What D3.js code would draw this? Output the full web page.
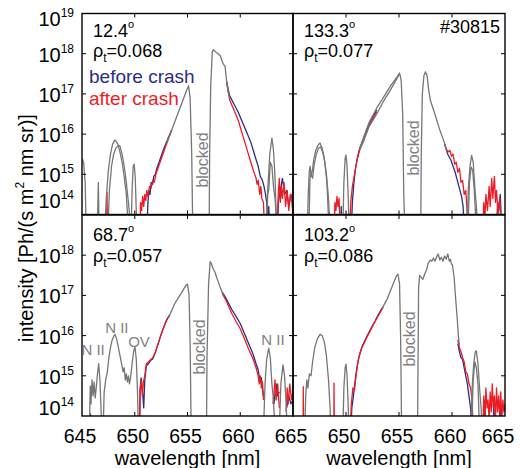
<!DOCTYPE html>
<html>
<head>
<meta charset="utf-8">
<script src="https://cdn.jsdelivr.net/npm/d3@7"></script>
<style>
  body { margin: 0; background: #fff; }
  svg { display: block; }
  text { font-family: "Liberation Sans", Arial, sans-serif; }
</style>
</head>
<body>
<svg id="chart" width="520" height="468"></svg>
<script>
// Balmer-alpha spectra, four lines of sight, shot #30815.
// Each series: [wavelength nm, log10 intensity]; null breaks the line.
// Values below 14 fall under the axis floor and are clipped.

const wavelengthTicks = [645, 650, 655, 660, 665];
const decadeTicks = [14, 15, 16, 17, 18, 19];

// ---- 12.4 deg, rho_t = 0.068 ----
const gray124 = [
  [645.0, 15.4], [645.15, 15.3], [645.3, 14.8], [645.4, 13.6], [645.4, null],
  [646.45, 13.6], [646.55, 14.8], [646.62, 13.6], [646.62, null],
  [647.15, 13.6], [647.3, 14.4], [647.5, 15.1], [647.7, 15.5], [647.9, 15.75], [648.1, 15.85], [648.2, 15.83],
  [648.4, 15.75], [648.6, 15.55], [648.8, 15.3], [649.0, 14.95], [649.2, 14.5], [649.4, 13.6], [649.4, null],
  [649.65, 13.6], [649.75, 14.6], [649.85, 15.2], [649.95, 15.25], [650.05, 14.9], [650.2, 13.6], [650.2, null],
  [653.0, 15.75], [653.5, 16.1], [654.0, 16.45], [654.5, 16.8], [654.9, 17.08], [655.1, 17.2], [655.25, 16.9],
  [655.4, 15.5], [655.5, 13.6], [655.5, null],
  [657.05, 13.6], [657.1, 15.5], [657.2, 17.2], [657.35, 18.05], [657.45, 18.1], [657.65, 18.05], [657.9, 18.0],
  [658.1, 17.95], [658.3, 17.8], [658.45, 17.72], [658.55, 17.7], [658.7, 17.35], [658.85, 17.05], [659.0, 16.9], [659.0, null],
  [662.45, 13.6], [662.6, 14.6], [662.8, 15.5], [663.0, 15.9], [663.15, 15.6], [663.3, 14.9], [663.45, 13.6]
];
const grayAlt124 = [
  [647.45, 13.6], [647.6, 14.6], [647.8, 15.2], [648.0, 15.5], [648.2, 15.65], [648.45, 15.72], [648.6, 15.7],
  [648.8, 15.5], [649.0, 15.2], [649.2, 14.8], [649.4, 14.3], [649.65, 13.6], [649.65, null],
  [662.5, 13.6], [662.6, 14.5], [662.7, 14.6], [662.85, 15.3], [663.0, 15.2], [663.15, 14.7], [663.3, 14.4], [663.5, 13.6]
];
const before124 = [
  [651.15, 13.6], [651.25, 14.3], [651.35, 14.6], [651.45, 14.5], [651.55, 14.8], [651.7, 14.75], [651.8, 14.95],
  [651.95, 15.0], [652.1, 15.15], [652.3, 15.3], [652.5, 15.45], [652.7, 15.6], [653.0, 15.8], [653.5, 16.1], [653.5, null],
  [658.7, 17.3], [659.0, 16.95], [659.4, 16.75], [659.8, 16.55], [660.2, 16.3], [660.6, 16.05], [661.0, 15.8],
  [661.4, 15.45], [661.7, 15.2], [661.9, 14.95], [662.1, 14.85], [662.25, 14.7], [662.4, 14.5], [662.5, 14.3],
  [662.6, 13.9], [662.7, 14.2], [662.8, 13.6], [662.8, null],
  [663.55, 13.6], [663.6, 14.3], [663.8, 14.6], [664.0, 14.9], [664.2, 14.5], [664.4, 14.6], [664.6, 14.2],
  [664.8, 14.5], [665.0, 14.3]
];
const after124 = [
  [647.33, 13.6], [647.37, 14.55], [647.42, 13.6], [647.42, null],
  [650.5, 13.6], [650.55, 14.3], [650.65, 14.1], [650.75, 14.45], [650.85, 14.2], [650.95, 14.5], [651.05, 14.35],
  [651.15, 14.6], [651.25, 14.45], [651.4, 14.7], [651.55, 14.65], [651.7, 14.85], [651.85, 14.8], [652.0, 15.0],
  [652.2, 15.15], [652.4, 15.3], [652.6, 15.45], [652.8, 15.6], [653.0, 15.75], [653.5, 16.1], [653.5, null],
  [658.7, 17.3], [659.0, 16.85], [659.4, 16.6], [659.8, 16.35], [660.2, 16.0], [660.6, 15.65], [661.0, 15.3],
  [661.3, 15.05], [661.5, 14.9], [661.6, 14.75], [661.7, 14.85], [661.85, 14.5], [661.95, 14.7], [662.05, 14.4],
  [662.2, 14.3], [662.3, 13.6], [662.3, null],
  [663.5, 13.6], [663.6, 14.5], [663.7, 14.9], [663.8, 14.3], [663.9, 14.7], [664.0, 14.4], [664.15, 14.8],
  [664.3, 14.2], [664.45, 14.6], [664.6, 14.1], [664.75, 14.5], [664.9, 14.3], [665.0, 14.0]
];

// ---- 133.3 deg, rho_t = 0.077 ----
const gray133 = [
  [646.35, 13.6], [646.45, 14.6], [646.55, 15.1], [646.62, 15.2], [646.7, 14.95], [646.8, 15.05], [646.95, 15.35],
  [647.15, 15.6], [647.35, 15.72], [647.55, 15.78], [647.75, 15.65], [647.95, 15.4], [648.15, 15.0], [648.35, 14.4],
  [648.5, 13.6], [648.5, null],
  [649.7, 13.6], [649.8, 14.8], [649.92, 15.4], [650.0, 15.48], [650.1, 15.2], [650.2, 14.5], [650.3, 13.6], [650.3, null],
  [651.3, 15.65], [651.7, 15.95], [652.2, 16.3], [652.9, 16.65], [653.5, 16.9], [654.2, 17.2], [654.8, 17.42],
  [655.05, 17.52], [655.2, 17.35], [655.35, 16.5], [655.45, 14.5], [655.55, 13.6], [655.55, null],
  [657.05, 13.6], [657.1, 15.5], [657.2, 17.0], [657.35, 17.45], [657.5, 17.55], [657.65, 17.45], [657.8, 17.1],
  [657.95, 16.85], [658.2, 16.65], [658.5, 16.4], [658.85, 16.1], [659.2, 15.85], [659.5, 15.6], [659.5, null],
  [661.4, 13.6], [661.55, 14.7], [661.7, 15.2], [661.85, 15.47], [662.0, 15.3], [662.15, 14.7], [662.3, 14.2], [662.45, 13.6]
];
const grayAlt133 = [
  [646.5, 13.6], [646.6, 14.9], [646.7, 15.0], [646.85, 14.9], [647.0, 15.25], [647.2, 15.5], [647.4, 15.65],
  [647.6, 15.68], [647.8, 15.55], [648.0, 15.3], [648.2, 14.8], [648.4, 13.6], [648.4, null],
  [651.3, 15.6], [651.7, 15.85], [652.2, 16.2], [652.9, 16.5], [653.5, 16.8], [654.2, 17.1], [654.8, 17.38], [655.05, 17.5], [655.05, null],
  [661.5, 13.6], [661.65, 14.8], [661.8, 15.18], [661.95, 15.1], [662.1, 14.6], [662.3, 13.6]
];
const before133 = [
  [649.5, 13.6], [649.55, 14.2], [649.6, 13.6], [649.6, null],
  [650.5, 13.6], [650.6, 14.3], [650.75, 14.8], [650.9, 15.15], [651.1, 15.45], [651.3, 15.65], [651.7, 15.92],
  [652.2, 16.27], [652.9, 16.6], [652.9, null],
  [659.3, 15.75], [659.6, 15.5], [659.9, 15.35], [660.1, 15.2], [660.3, 15.05], [660.5, 14.85], [660.7, 14.65],
  [660.9, 14.45], [661.05, 14.2], [661.15, 13.6], [661.15, null],
  [664.2, 13.6], [664.3, 14.3], [664.4, 14.1], [664.55, 14.5], [664.7, 13.6]
];
const after133 = [
  [648.9, 13.6], [648.95, 14.3], [649.05, 14.1], [649.15, 14.45], [649.25, 14.2], [649.35, 14.4], [649.45, 13.6], [649.45, null],
  [650.35, 13.6], [650.45, 14.3], [650.6, 14.7], [650.8, 15.0], [651.0, 15.3], [651.3, 15.62], [651.7, 15.9],
  [652.2, 16.22], [652.9, 16.55], [652.9, null],
  [659.3, 15.75], [659.6, 15.55], [659.8, 15.6], [659.95, 15.45], [660.1, 15.5], [660.25, 15.25], [660.4, 15.3],
  [660.55, 15.05], [660.7, 15.15], [660.85, 14.8], [661.0, 14.85], [661.15, 14.5], [661.3, 14.6], [661.4, 14.2],
  [661.5, 13.6], [661.5, null],
  [662.9, 13.6], [663.0, 14.3], [663.1, 13.9], [663.2, 14.5], [663.35, 14.1], [663.5, 14.7], [663.6, 14.2],
  [663.75, 14.9], [663.85, 14.4], [664.0, 14.95], [664.1, 14.3], [664.2, 14.6], [664.35, 14.0], [664.5, 14.4], [664.65, 13.6]
];

// ---- 68.7 deg, rho_t = 0.057 ----
const gray687 = [
  [645.7, 13.6], [645.78, 14.75], [645.85, 14.3], [645.95, 14.9], [646.05, 14.5], [646.15, 14.85], [646.25, 14.45],
  [646.35, 14.7], [646.45, 15.0], [646.58, 15.3], [646.7, 14.9], [646.8, 14.2], [646.88, 13.6], [646.88, null],
  [647.0, 13.6], [647.1, 14.6], [647.25, 14.9], [647.4, 15.1], [647.55, 15.45], [647.7, 15.7], [647.85, 15.88],
  [648.0, 15.98], [648.13, 16.03], [648.3, 15.9], [648.45, 15.7], [648.6, 15.5], [648.75, 15.3], [648.9, 15.1],
  [649.0, 15.2], [649.1, 14.9], [649.2, 15.05], [649.3, 14.85], [649.4, 15.0], [649.5, 14.8], [649.6, 14.95],
  [649.75, 15.3], [649.9, 15.62], [650.02, 15.72], [650.15, 15.4], [650.25, 14.7], [650.35, 13.6], [650.35, null],
  [653.2, 16.45], [653.8, 16.8], [654.4, 17.05], [654.85, 17.25], [655.0, 17.28], [655.15, 17.0], [655.25, 15.8],
  [655.35, 13.6], [655.35, null],
  [656.8, 13.6], [656.85, 15.5], [657.0, 17.3], [657.15, 17.84], [657.25, 17.8], [657.45, 17.65], [657.6, 17.58],
  [657.8, 17.42], [658.1, 17.2], [658.4, 17.0], [658.4, null],
  [662.2, 13.6], [662.35, 14.8], [662.5, 15.4], [662.7, 15.69], [662.85, 15.45], [663.0, 14.8], [663.15, 14.4],
  [663.3, 13.6], [663.3, null],
  [663.7, 13.6], [663.85, 14.8], [664.05, 15.27], [664.2, 15.0], [664.35, 14.3], [664.45, 13.6]
];
const before687 = [
  [645.75, 13.6], [645.8, 14.05], [645.85, 13.6], [645.85, null],
  [650.45, 13.6], [650.5, 14.6], [650.6, 14.95], [650.7, 14.7], [650.8, 14.4], [650.85, 14.2], [650.95, 14.9],
  [651.1, 15.25], [651.3, 15.3], [651.5, 15.38], [651.7, 15.42], [651.9, 15.55], [652.1, 15.7], [652.4, 15.95],
  [652.7, 16.18], [653.0, 16.38], [653.3, 16.52], [653.3, null],
  [658.3, 17.08], [658.7, 16.9], [659.2, 16.65], [659.6, 16.48], [660.0, 16.3], [660.4, 16.05], [660.8, 15.8],
  [661.2, 15.55], [661.5, 15.3], [661.7, 15.15], [661.85, 14.9], [662.0, 14.95], [662.1, 14.7], [662.2, 14.5], [662.2, null],
  [663.2, 14.3], [663.4, 14.8], [663.55, 14.5], [663.7, 14.6], [663.7, null],
  [664.4, 14.2], [664.6, 14.5], [664.8, 14.3], [665.0, 14.4]
];
const after687 = [
  [650.45, 13.6], [650.52, 14.7], [650.62, 14.9], [650.72, 14.5], [650.82, 14.85], [650.95, 15.0], [651.1, 15.3],
  [651.3, 15.35], [651.5, 15.4], [651.7, 15.45], [651.9, 15.55], [652.1, 15.7], [652.4, 15.95], [652.7, 16.17],
  [653.0, 16.37], [653.3, 16.5], [653.3, null],
  [658.3, 17.05], [658.7, 16.85], [659.2, 16.55], [659.6, 16.35], [660.0, 16.17], [660.4, 15.92], [660.8, 15.66],
  [661.2, 15.43], [661.5, 15.2], [661.7, 15.0], [661.8, 14.8], [661.9, 15.0], [662.0, 14.7], [662.1, 14.85],
  [662.2, 14.4], [662.2, null],
  [663.1, 14.3], [663.3, 14.9], [663.4, 14.4], [663.55, 14.8], [663.7, 14.2], [663.7, null],
  [664.35, 14.1], [664.45, 14.7], [664.55, 14.3], [664.7, 14.8], [664.85, 14.4], [665.0, 14.6]
];

// ---- 103.2 deg, rho_t = 0.086 ----
const gray1032 = [
  [646.1, 13.6], [646.2, 14.5], [646.3, 14.9], [646.4, 14.7], [646.55, 15.05], [646.7, 15.0], [646.85, 15.35],
  [647.05, 15.7], [647.3, 15.92], [647.55, 16.03], [647.75, 16.0], [647.95, 15.85], [648.15, 15.5], [648.35, 14.9],
  [648.5, 14.2], [648.55, 13.6], [648.55, null],
  [649.7, 13.6], [649.8, 14.7], [649.92, 15.2], [650.0, 15.29], [650.1, 15.0], [650.2, 14.3], [650.28, 13.6], [650.28, null],
  [653.4, 16.67], [653.9, 16.92], [654.4, 17.25], [654.75, 17.48], [654.9, 17.53], [655.05, 17.3], [655.15, 16.0],
  [655.25, 13.6], [655.25, null],
  [656.75, 13.6], [656.8, 15.5], [656.85, 17.2], [656.95, 17.5], [657.1, 17.45], [657.25, 17.4], [657.45, 17.55],
  [657.6, 17.63], [657.75, 17.8], [657.95, 17.88], [658.1, 17.85], [658.25, 17.93], [658.4, 17.85], [658.55, 17.96],
  [658.7, 18.03], [658.85, 17.88], [659.0, 17.95], [659.15, 17.85], [659.3, 17.98], [659.45, 17.9], [659.6, 18.03],
  [659.75, 17.85], [659.85, 17.9], [659.95, 17.78], [660.05, 17.75], [660.2, 17.45], [660.35, 16.9], [660.5, 16.4],
  [660.6, 16.0], [660.7, 15.75], [660.7, null],
  [661.75, 13.6], [661.9, 14.7], [662.05, 15.3], [662.2, 15.6], [662.3, 15.62], [662.45, 15.3], [662.6, 14.7],
  [662.75, 14.2], [662.85, 13.6]
];
const grayAlt1032 = [
  [661.85, 13.6], [662.0, 14.9], [662.15, 15.35], [662.3, 15.2], [662.45, 14.8], [662.6, 13.6]
];
const before1032 = [
  [650.45, 13.6], [650.55, 14.2], [650.7, 14.5], [650.85, 14.85], [651.0, 15.15], [651.2, 15.45], [651.5, 15.72],
  [651.95, 15.97], [652.4, 16.2], [652.75, 16.37], [653.1, 16.55], [653.5, 16.72], [653.5, null],
  [660.55, 15.8], [660.7, 15.6], [660.85, 15.45], [661.0, 15.4], [661.15, 15.2], [661.3, 15.0], [661.45, 14.8],
  [661.6, 14.5], [661.75, 14.2], [661.85, 13.6], [661.85, null],
  [662.95, 13.6], [663.0, 14.0], [663.1, 14.3], [663.2, 13.6], [663.2, null],
  [663.9, 13.6], [663.95, 14.4], [664.0, 13.6], [664.0, null],
  [664.5, 13.6], [664.55, 14.2], [664.6, 13.6]
];
const after1032 = [
  [645.95, 13.6], [645.97, 14.73], [646.0, 13.6], [646.0, null],
  [648.85, 13.6], [648.87, 14.82], [648.9, 13.6], [648.9, null],
  [650.4, 13.6], [650.5, 14.3], [650.65, 14.7], [650.8, 14.65], [650.95, 15.0], [651.1, 15.3], [651.3, 15.55],
  [651.5, 15.7], [651.95, 15.95], [652.4, 16.18], [652.75, 16.35], [653.1, 16.52], [653.5, 16.7], [653.5, null],
  [660.55, 15.9], [660.7, 15.7], [660.85, 15.6], [661.0, 15.45], [661.15, 15.35], [661.3, 15.1], [661.45, 15.05],
  [661.6, 14.8], [661.75, 14.7], [661.9, 14.4], [662.0, 13.6], [662.0, null],
  [662.9, 13.6], [663.0, 14.5], [663.1, 14.0], [663.2, 14.7], [663.3, 14.2], [663.4, 14.4], [663.5, 13.9],
  [663.6, 14.6], [663.7, 14.1], [663.8, 14.8], [663.9, 14.2], [664.0, 14.5], [664.1, 13.9], [664.2, 14.7],
  [664.3, 14.1], [664.4, 14.5], [664.5, 14.0], [664.6, 14.6], [664.7, 13.9], [664.8, 14.4], [664.9, 14.1], [665.0, 14.3]
];

const angles = ["12.4", "133.3", "68.7", "103.2"];
const rhoValues = ["0.068", "0.077", "0.057", "0.086"];
const grayMain = [gray124, gray133, gray687, gray1032];
const grayAlt = [grayAlt124, grayAlt133, [], grayAlt1032];
const beforeCrash = [before124, before133, before687, before1032];
const afterCrash = [after124, after133, after687, after1032];

// ---- layout ----
const colX = [[82, 293], [293, 505]];
const rowY = [[13.5, 214.5], [215, 416]];
const COLORS = { gray: "#767676", before: "#2b2e83", after: "#ed1c24", label: "#808080" };

const svg = d3.select("#chart");

angles.forEach((ang, i) => {
  const col = i % 2, row = Math.floor(i / 2);
  const [x0, x1] = colX[col], [y0, y1] = rowY[row];
  const x = d3.scaleLinear().domain([645, 665]).range([x0, x1]);
  const y = d3.scaleLog().domain([1e14, 1e19]).range([y1, y0]);
  const g = svg.append("g");

  const clipId = "clip" + i;
  svg.append("clipPath").attr("id", clipId)
    .append("rect").attr("x", x0).attr("y", y0).attr("width", x1 - x0).attr("height", y1 - y0);

  const line = d3.line()
    .defined(d => d[1] !== null)
    .x(d => x(d[0]))
    .y(d => y(Math.pow(10, d[1])));

  const plot = g.append("g").attr("clip-path", `url(#${clipId})`);
  const draw = (data, color) => plot.append("path").datum(data)
    .attr("d", line).attr("fill", "none").attr("stroke", color)
    .attr("stroke-width", 1.3).attr("stroke-linejoin", "round");
  draw(beforeCrash[i], COLORS.before);
  draw(afterCrash[i], COLORS.after);
  draw(grayAlt[i], COLORS.gray);
  draw(grayMain[i], COLORS.gray);

  // inward ticks on all four sides
  const ticks = g.append("g").attr("stroke", "#000").attr("stroke-width", 1);
  wavelengthTicks.slice(1, -1).forEach(t => {
    ticks.append("line").attr("x1", x(t)).attr("x2", x(t)).attr("y1", y1).attr("y2", y1 - 4);
    ticks.append("line").attr("x1", x(t)).attr("x2", x(t)).attr("y1", y0).attr("y2", y0 + 4);
  });
  decadeTicks.slice(1, -1).forEach(e => {
    const yy = y(Math.pow(10, e));
    ticks.append("line").attr("x1", x0).attr("x2", x0 + 4).attr("y1", yy).attr("y2", yy);
    ticks.append("line").attr("x1", x1).attr("x2", x1 - 4).attr("y1", yy).attr("y2", yy);
  });

  g.append("rect").attr("x", x0).attr("y", y0).attr("width", x1 - x0).attr("height", y1 - y0)
    .attr("fill", "none").attr("stroke", "#000").attr("stroke-width", 1.4);

  // decade labels on the left column
  if (col === 0) {
    const exps = row === 0 ? decadeTicks : decadeTicks.slice(0, -1);
    exps.forEach(e => {
      let dy = 8;
      if (e === 19) dy = 12;
      if (e === 14) dy = row === 0 ? -7 : -1;
      const t = svg.append("text").attr("x", 74).attr("y", y(Math.pow(10, e)) + dy)
        .attr("text-anchor", "end").attr("font-size", 20).attr("fill", "#000");
      t.append("tspan").text("10");
      t.append("tspan").attr("font-size", 12).attr("dy", -9).text(e);
    });
  }

  // wavelength labels on the bottom row
  if (row === 1) {
    const vals = col === 0 ? wavelengthTicks : wavelengthTicks.slice(1);
    vals.forEach(v => {
      const shift = (col === 1 && v === 665) ? -7 : -2;
      svg.append("text").attr("x", x(v) + shift).attr("y", 443)
        .attr("text-anchor", "middle").attr("font-size", 19.5).attr("fill", "#000").text(v);
    });
    svg.append("text").attr("x", (x0 + x1) / 2).attr("y", 465)
      .attr("text-anchor", "middle").attr("font-size", 20).attr("fill", "#000").text("wavelength [nm]");
  }

  // angle and rho_t
  const lx = x0 + 11, ly = row === 0 ? 36.5 : 241;
  const a = svg.append("text").attr("x", lx).attr("y", ly).attr("font-size", 18).attr("fill", "#000");
  a.append("tspan").text(ang);
  a.append("tspan").attr("font-size", 11).attr("dy", -9).text("o");
  const r = svg.append("text").attr("x", lx).attr("y", ly + 20.5).attr("font-size", 18).attr("fill", "#000");
  r.append("tspan").text("ρ");
  r.append("tspan").attr("font-size", 12).attr("dy", 5).text("t");
  r.append("tspan").attr("dy", -5).text("=" + rhoValues[i]);

  // blocked band label
  const blockedCenter = [656.4, 656.3, 656.05, 655.95][i];
  const blockedY = [160, 148, 347, 339][i];
  svg.append("text")
    .attr("transform", `translate(${x(blockedCenter) + 6},${blockedY}) rotate(-90)`)
    .attr("text-anchor", "middle").attr("font-size", 16).attr("fill", COLORS.label).text("blocked");

  if (i === 0) {
    svg.append("text").attr("x", x0 + 7).attr("y", 83).attr("font-size", 19)
      .attr("fill", COLORS.before).text("before crash");
    svg.append("text").attr("x", x0 + 7).attr("y", 105).attr("font-size", 19)
      .attr("fill", COLORS.after).text("after crash");
  }
  if (i === 1) {
    svg.append("text").attr("x", x1 - 5).attr("y", 33).attr("text-anchor", "end")
      .attr("font-size", 18).attr("fill", "#000").text("#30815");
  }
  if (i === 2) {
    const lines = [["N II", 646.05, 355], ["N II", 648.3, 333], ["OV", 650.4, 347], ["N II", 663.1, 345]];
    lines.forEach(([txt, wl, yy]) => {
      svg.append("text").attr("x", x(wl)).attr("y", yy).attr("text-anchor", "middle")
        .attr("font-size", 15).attr("fill", COLORS.label).text(txt);
    });
  }
});

// shared y title
const yt = svg.append("text")
  .attr("transform", "translate(33,228) rotate(-90)")
  .attr("text-anchor", "middle").attr("font-size", 20).attr("fill", "#000");
yt.append("tspan").text("intensity [Ph/(s m");
yt.append("tspan").attr("font-size", 12).attr("dy", -9).text("2");
yt.append("tspan").attr("dy", 9).text(" nm sr)]");
</script>
</body>
</html>
